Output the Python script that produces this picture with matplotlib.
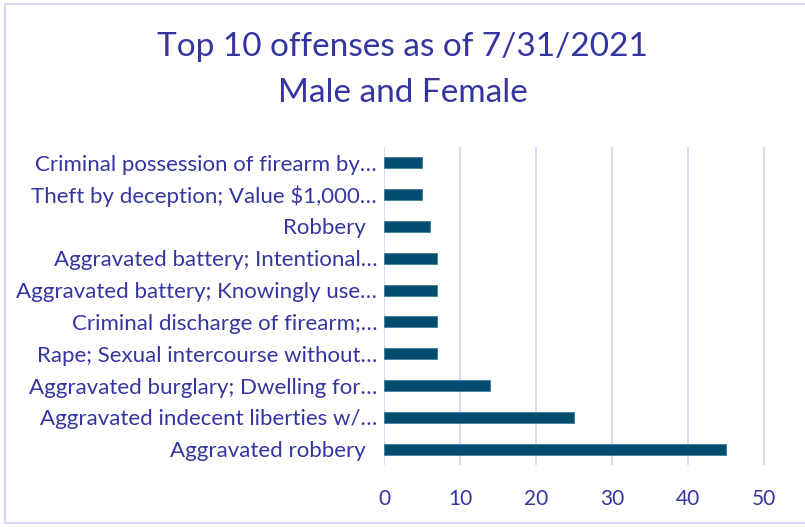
import matplotlib.pyplot as plt
from matplotlib.patches import Rectangle

# data (bottom to top as drawn)
offenses = [
    "Aggravated robbery  ",
    "Aggravated indecent liberties w/\u2026",
    "Aggravated burglary; Dwelling for\u2026",
    "Rape; Sexual intercourse without\u2026",
    "Criminal discharge of firearm;\u2026",
    "Aggravated battery; Knowingly use\u2026",
    "Aggravated battery; Intentional\u2026",
    "Robbery  ",
    "Theft by deception; Value $1,000\u2026",
    "Criminal possession of firearm by\u2026",
]
counts = [45, 25, 14, 7, 7, 7, 7, 6, 5, 5]
xticks = [0, 10, 20, 30, 40, 50]

text_col = "#3535A0"
bar_col = "#034E70"
grid_col = "#D6D6F2"

plt.rcParams['font.family'] = ['Lato', 'DejaVu Sans']

fig = plt.figure(figsize=(8.05, 5.27), dpi=100)
ax = fig.add_axes([384 / 805, 1 - 465 / 527, (764 - 384) / 805 + 0.03, (465 - 147) / 527])

ax.barh(range(len(counts)), counts, height=0.35, color=bar_col,
        edgecolor="#3F7A95", linewidth=0.6, zorder=3)
ax.set_ylim(-0.5, len(counts) - 0.5)
ax.set_xlim(0, 50 * (764 - 384 + 0.03 * 805) / (764 - 384))
ax.set_xticks(xticks)
ax.set_yticks(range(len(offenses)))
ax.set_yticklabels(offenses)
ax.tick_params(axis='both', length=0, colors=text_col)
ax.tick_params(axis='y', pad=5, labelsize=16)
ax.tick_params(axis='x', pad=17, labelsize=15)
ax.grid(axis='x', color=grid_col, linewidth=1.3, zorder=0)
for s in ax.spines.values():
    s.set_visible(False)

fig.text(0.5, 1 - 47 / 527, "Top 10 offenses as of 7/31/2021", ha='center', va='center',
         fontsize=24, color=text_col)
fig.text(0.5, 1 - 93 / 527, "Male and Female", ha='center', va='center',
         fontsize=24, color=text_col)

fig.patches.append(Rectangle((5 / 805, 4 / 527), 1.0, 1 - 8 / 527, transform=fig.transFigure,
                             fill=False, edgecolor=grid_col, linewidth=1.5))

fig.savefig("out.png", dpi=100)
